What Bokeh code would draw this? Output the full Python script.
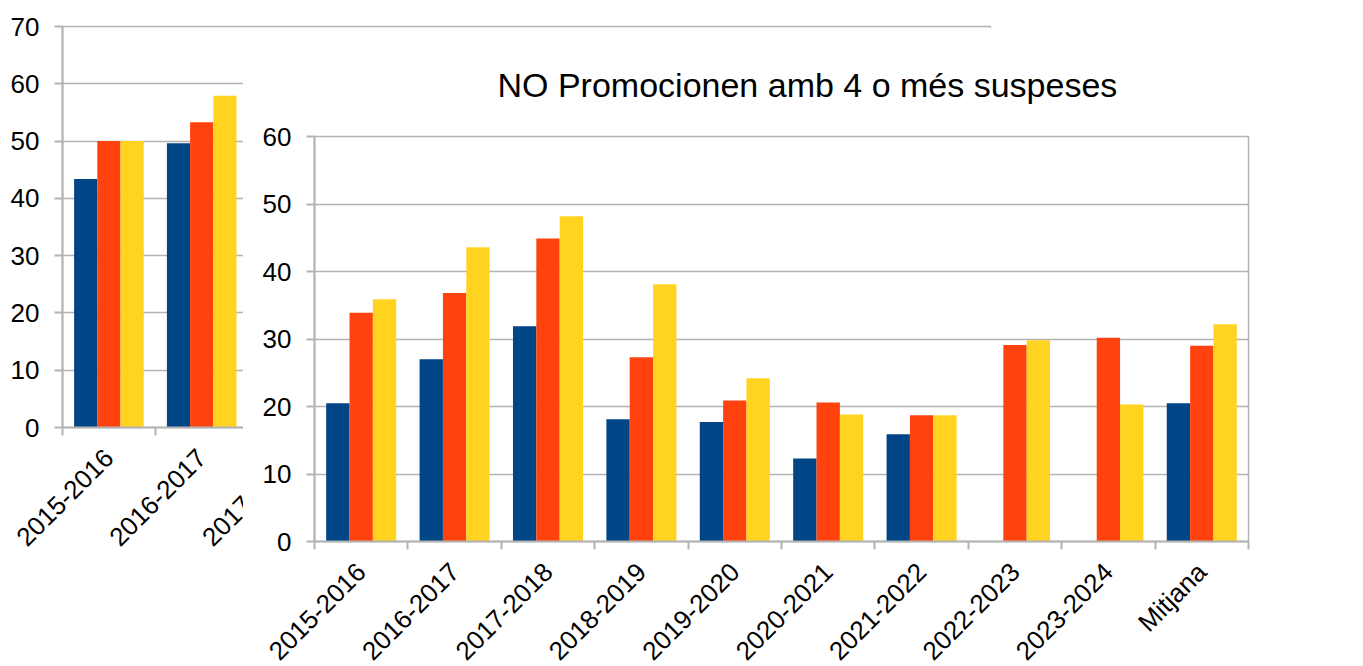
import math
import numpy as np
from bokeh.plotting import figure
from bokeh.models import (ColumnDataSource, Range1d, LinearAxis,
                          FixedTicker, Legend, LegendItem, Title)
from bokeh.transform import dodge
from bokeh.embed import file_html
from bokeh.resources import INLINE

# ---------------- data ----------------
categories = ["2015-2016", "2016-2017", "2017-2018", "2018-2019", "2019-2020",
              "2020-2021", "2021-2022", "2022-2023", "2023-2024", "Mitjana"]
series = ["AV0", "AV1", "AV2"]
av0 = [20.5, 27.0, 31.9, 18.1, 17.7, 12.3, 15.9, np.nan, np.nan, 20.5]
av1 = [33.9, 36.8, 44.9, 27.3, 20.9, 20.6, 18.7, 29.1, 30.2, 29.0]
av2 = [35.9, 43.6, 48.2, 38.1, 24.2, 18.8, 18.7, 29.8, 20.3, 32.2]

# older chart partly hidden behind the main one (only two groups visible)
back_categories = ["2015-2016", "2016-2017"]
back_av0 = [43.4, 49.6]
back_av1 = [50.0, 53.3]
back_av2 = [50.0, 57.9]

title_text = "NO Promocionen amb 4 o més  suspeses"

# ---------------- style ----------------
FONT = "Liberation Sans"
GRAY = "#b3b3b3"
COLORS = ["#004586", "#ff420e", "#ffd320"]
TICK_FS = "26px"
N = len(categories)


def base_chart(w, h, left, right, top, bottom, ymax):
    p = figure(width=w, height=h, x_range=Range1d(-0.5, N - 0.5),
               y_range=Range1d(0, ymax), output_backend="svg",
               toolbar_location=None, min_border_left=left,
               min_border_right=right, min_border_top=top,
               min_border_bottom=bottom, sizing_mode="fixed")
    p.background_fill_color = "white"
    p.border_fill_color = "white"
    p.outline_line_color = GRAY
    p.outline_line_width = 1.5

    # y axis
    yt = FixedTicker(ticks=list(range(0, ymax + 1, 10)))
    yax = p.yaxis[0]
    yax.ticker = yt
    yax.axis_line_color = GRAY
    yax.axis_line_width = 2
    yax.major_tick_line_color = GRAY
    yax.major_tick_line_width = 2
    yax.major_tick_out = 8
    yax.major_tick_in = 0
    yax.minor_tick_line_color = None
    yax.major_label_text_font = FONT
    yax.major_label_text_font_size = TICK_FS
    yax.major_label_text_color = "#000000"
    yax.major_label_standoff = 15
    p.ygrid.ticker = yt
    p.ygrid.grid_line_color = GRAY
    p.ygrid.grid_line_width = 1.5
    p.xgrid.visible = False

    # x label axis: labels at category centres, no tick marks
    xax = p.xaxis[0]
    xax.ticker = FixedTicker(ticks=list(range(N)))
    xax.major_label_overrides = {i: c for i, c in enumerate(categories)}
    xax.axis_line_color = None
    xax.major_tick_line_color = None
    xax.minor_tick_line_color = None
    xax.major_tick_out = 0
    xax.major_tick_in = 0
    xax.major_label_orientation = math.pi / 4
    xax.major_label_text_font = FONT
    xax.major_label_text_font_size = TICK_FS
    xax.major_label_text_color = "#000000"
    xax.major_label_standoff = 18

    # x tick marks at category boundaries
    tax = LinearAxis(ticker=FixedTicker(ticks=[i - 0.5 for i in range(N + 1)]),
                     axis_line_color=GRAY, axis_line_width=2,
                     major_tick_line_color=GRAY, major_tick_line_width=2,
                     major_tick_out=8, major_tick_in=0,
                     minor_tick_line_color=None,
                     major_label_text_font_size="1px",
                     major_label_text_alpha=0, major_label_standoff=0)
    p.below = [tax] + list(p.below)
    return p


def add_bars(p, cats, vals):
    idx = [categories.index(c) for c in cats]
    src = ColumnDataSource(dict(x=idx, v0=vals[0], v1=vals[1], v2=vals[2]))
    rs = []
    for i, key in enumerate(["v0", "v1", "v2"]):
        r = p.vbar(x=dodge("x", (i - 1) * 0.25), top=key,
                   width=0.25, source=src, fill_color=COLORS[i],
                   line_color=None)
        rs.append(r)
    return rs


# ---------------- background (old) chart ----------------
# frame 928 x 401 at (62, 26)
back = base_chart(1355, 658, 62, 365, 26, 231, 70)
add_bars(back, back_categories, [back_av0, back_av1, back_av2])
back.styles = {"position": "absolute", "left": "0px", "top": "0px",
               "z-index": "0", "background-color": "white"}

# ---------------- main chart ----------------
# frame 934 x 405 at (314, 136)
FW, FH = 1112, 108 + 405 + 150
front = base_chart(FW, FH, 71, 107, 108, 150, 60)
rs = add_bars(front, categories, [av0, av1, av2])
front.title = Title(text=title_text, align="left", text_font=FONT,
                    text_font_size="34px", text_font_style="normal",
                    text_color="#000000", offset=183, standoff=66)
legend = Legend(items=[LegendItem(label=s, renderers=[r]) for s, r in zip(series, rs)],
                location=(970, 85), orientation="vertical",
                glyph_width=14, glyph_height=14, label_standoff=7,
                label_text_font=FONT, label_text_font_size="25px",
                label_text_color="#000000", spacing=16, padding=0, margin=0,
                border_line_color=None, background_fill_alpha=0)
front.add_layout(legend, "center")
front.styles = {"position": "absolute", "left": "243px", "top": "28px",
                "width": f"{FW}px", "height": f"{FH}px",
                "overflow": "visible",
                "z-index": "1", "background-color": "white"}

open("out.html", "w").write(file_html([back, front], INLINE))
